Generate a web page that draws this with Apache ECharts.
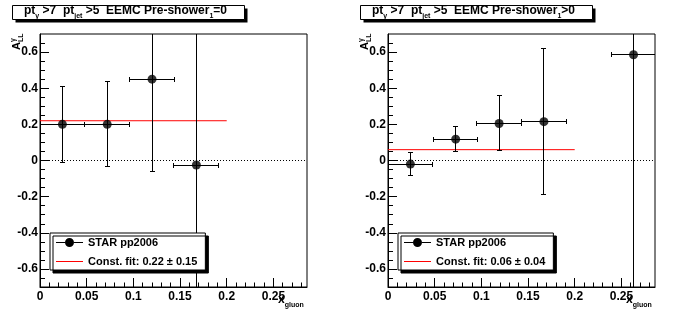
<!DOCTYPE html>
<html>
<head>
<meta charset="utf-8">
<script src="https://cdn.jsdelivr.net/npm/echarts@6/dist/echarts.min.js"></script>
<style>
  html, body { margin: 0; padding: 0; background: #fff; }
  #chart { width: 696px; height: 322px; }
</style>
</head>
<body>
<div id="chart"></div>
<script>
// Photon+jet double-spin asymmetry A_LL vs x_gluon (STAR pp2006),
// split by the EEMC first pre-shower layer, with a constant fit per panel.

const xRange = [0, 0.286];
const yRange = [-0.7, 0.7];
const xTickValues = [0, 0.05, 0.1, 0.15, 0.2, 0.25];
const yTickValues = [-0.6, -0.4, -0.2, 0, 0.2, 0.4, 0.6];

// Pre-shower1 = 0
const xgLeft    = [0.0240, 0.0720, 0.1200, 0.1675];
const allLeft   = [0.200, 0.200, 0.450, -0.025];
const xErrLeft  = [0.024, 0.024, 0.024, 0.024];
const yErrLeft  = [0.210, 0.235, 0.510, 0.850];
const fitLeft = 0.22;
const fitErrLeft = 0.15;

// Pre-shower1 > 0
const xgRight   = [0.0240, 0.0725, 0.1190, 0.1670, 0.2630];
const allRight  = [-0.020, 0.118, 0.205, 0.215, 0.585];
const xErrRight = [0.024, 0.0235, 0.024, 0.024, 0.024];
const yErrRight = [0.065, 0.068, 0.152, 0.405, 1.350];
const fitRight = 0.06;
const fitErrRight = 0.04;

const fitRange = [0, 0.2];
const panelCuts = ['=0', '>0'];
const dataName = 'STAR pp2006';

const FONT = 'Liberation Sans';
const GRID_LEFTS = [40, 388];
const GRID_TOP = 34, GRID_W = 267, GRID_H = 253;

// minor tick positions (every 0.01 in x, every 0.05 in y)
const xMinor = [];
for (let k = 1; k * 0.01 < xRange[1]; k++) xMinor.push(+(k * 0.01).toFixed(2));
const yMinor = [];
for (let k = -13; k <= 13; k++) yMinor.push(+(k * 0.05).toFixed(2));

const fmt = v => String(+(+v).toFixed(3));

const panels = [
  { x: xgLeft, y: allLeft, ex: xErrLeft, ey: yErrLeft, fit: fitLeft, fitErr: fitErrLeft },
  { x: xgRight, y: allRight, ex: xErrRight, ey: yErrRight, fit: fitRight, fitErr: fitErrRight }
];

function errorBarItem(params, api) {
  const x = api.value(0), y = api.value(1), ex = api.value(2), ey = api.value(3);
  const cs = params.coordSys;
  const L = cs.x, R = cs.x + cs.width, T = cs.y, B = cs.y + cs.height;
  const c = api.coord([x, y]);
  const pl = api.coord([x - ex, y]), pr = api.coord([x + ex, y]);
  const pt = api.coord([x, y + ey]), pb = api.coord([x, y - ey]);
  const snap = v => Math.round(v - 0.5) + 0.5;
  const clampX = v => Math.min(Math.max(v, L), R);
  const clampY = v => Math.min(Math.max(v, T), B);
  const cx = snap(c[0]), cy = snap(c[1]);
  const CAP = 2.5;
  const st = () => ({ stroke: '#000', lineWidth: 1, fill: null });
  const kids = [
    { type: 'line', shape: { x1: clampX(pl[0]), y1: cy, x2: clampX(pr[0]), y2: cy }, style: st() },
    { type: 'line', shape: { x1: cx, y1: clampY(pt[1]), x2: cx, y2: clampY(pb[1]) }, style: st() }
  ];
  [pl[0], pr[0]].forEach(px => {
    if (px >= L - 0.5 && px <= R + 0.5) {
      kids.push({ type: 'line', shape: { x1: snap(px), y1: cy - CAP, x2: snap(px), y2: cy + CAP }, style: st() });
    }
  });
  [pt[1], pb[1]].forEach(py => {
    if (py >= T && py <= B) {
      kids.push({ type: 'line', shape: { x1: cx - CAP, y1: snap(py), x2: cx + CAP, y2: snap(py) }, style: st() });
    }
  });
  return { type: 'group', children: kids };
}

const markerIcon = 'path://M0,4 L9,4 L9,5 L0,5 Z M18,4 L27,4 L27,5 L18,5 Z ' +
  'M9,4.5 A4.5,4.5 0 1,0 18,4.5 A4.5,4.5 0 1,0 9,4.5 Z';
const lineIcon = 'path://M0,0 L27,0 L27,1 L0,1 Z';

const grid = [], xAxis = [], yAxis = [], series = [], legend = [], graphic = [];

panels.forEach((p, i) => {
  grid.push({ left: GRID_LEFTS[i], top: GRID_TOP, width: GRID_W, height: GRID_H,
    show: true, borderColor: '#000', borderWidth: 1, backgroundColor: 'transparent' });
});
// overlay grids that only carry the minor ticks
panels.forEach((p, i) => {
  grid.push({ left: GRID_LEFTS[i], top: GRID_TOP, width: GRID_W, height: GRID_H, show: false });
});

const labelStyle = { color: '#000', fontFamily: FONT, fontWeight: 'bold', fontSize: 12 };

panels.forEach((p, i) => {
  xAxis.push({
    gridIndex: i, type: 'value', min: xRange[0], max: xRange[1], position: 'bottom',
    axisLine: { show: true, onZero: false, lineStyle: { color: '#000', width: 1 } },
    axisTick: { show: true, inside: true, length: 9, customValues: xTickValues, lineStyle: { color: '#000' } },
    axisLabel: Object.assign({ customValues: xTickValues, formatter: fmt, margin: 4 }, labelStyle),
    splitLine: { show: false }
  });
  yAxis.push({
    gridIndex: i, type: 'value', min: yRange[0], max: yRange[1], position: 'left',
    axisLine: { show: true, onZero: false, lineStyle: { color: '#000', width: 1 } },
    axisTick: { show: true, inside: true, length: 9, customValues: yTickValues, lineStyle: { color: '#000' } },
    axisLabel: Object.assign({ customValues: yTickValues, formatter: fmt, margin: 2 }, labelStyle),
    splitLine: { show: false }
  });
});
panels.forEach((p, i) => {
  xAxis.push({
    gridIndex: 2 + i, type: 'value', min: xRange[0], max: xRange[1], position: 'bottom',
    axisLine: { show: false, onZero: false }, axisLabel: { show: false }, splitLine: { show: false },
    axisTick: { show: true, inside: true, length: 4.5, customValues: xMinor, lineStyle: { color: '#000' } }
  });
  yAxis.push({
    gridIndex: 2 + i, type: 'value', min: yRange[0], max: yRange[1], position: 'left',
    axisLine: { show: false, onZero: false }, axisLabel: { show: false }, splitLine: { show: false },
    axisTick: { show: true, inside: true, length: 5, customValues: yMinor, lineStyle: { color: '#000' } }
  });
});

panels.forEach((p, i) => {
  const fitName = 'Const. fit: ' + p.fit.toFixed(2) + ' \u00b1 ' + p.fitErr.toFixed(2);
  const bars = p.x.map((xv, k) => [xv, p.y[k], p.ex[k], p.ey[k]]);
  series.push({
    name: dataName, type: 'custom', xAxisIndex: i, yAxisIndex: i,
    renderItem: errorBarItem, data: bars, encode: { x: 0, y: 1 }, z: 3, silent: true,
    itemStyle: { color: '#000' }
  });
  series.push({
    name: fitName, type: 'line', xAxisIndex: i, yAxisIndex: i,
    data: [[fitRange[0], p.fit], [fitRange[1], p.fit]],
    symbol: 'none', lineStyle: { color: '#ff0000', width: 1 }, itemStyle: { color: '#ff0000' },
    z: 2, silent: true, animation: false,
    markLine: {
      silent: true, symbol: 'none', label: { show: false },
      lineStyle: { color: '#000', width: 1, type: [1, 2] },
      data: [{ yAxis: 0 }]
    }
  });
  series.push({
    name: dataName, type: 'scatter', xAxisIndex: i, yAxisIndex: i,
    data: p.x.map((xv, k) => [xv, p.y[k]]),
    symbol: 'circle', symbolSize: 9, itemStyle: { color: '#000' }, z: 4, silent: true
  });

  legend.push({
    left: GRID_LEFTS[i] + 10, top: 233, orient: 'vertical',
    itemWidth: 27, itemHeight: 9, itemGap: 8,
    padding: [4, 8, 3, 6], symbolKeepAspect: true, selectedMode: false,
    backgroundColor: '#fff', borderColor: '#000', borderWidth: 1, borderRadius: 0,
    shadowColor: '#000', shadowBlur: 0, shadowOffsetX: 3, shadowOffsetY: 3,
    textStyle: { color: '#000', fontFamily: FONT, fontWeight: 'bold', fontSize: 11 },
    data: [{ name: dataName, icon: markerIcon }, { name: fitName, icon: lineIcon }]
  });

  const ox = GRID_LEFTS[i] - 40;
  // title box with drop shadow
  graphic.push({ type: 'rect', shape: { x: ox + 15.5, y: 8.5, width: 232, height: 14 }, style: { fill: '#000' }, silent: true });
  graphic.push({ type: 'rect', shape: { x: ox + 12.5, y: 5.5, width: 232, height: 14 },
    style: { fill: '#fff', stroke: '#000', lineWidth: 1 }, silent: true });
  graphic.push({
    type: 'text', x: ox + 24, y: 11, silent: true,
    style: {
      text: '{m|pt}{s|\u03b3}{m| >7  pt}{s|jet}{m| >5  EEMC Pre-shower}{s|1}{m|' + panelCuts[i] + '}',
      verticalAlign: 'middle', align: 'left',
      rich: {
        m: { fontFamily: FONT, fontWeight: 'bold', fontSize: 12, fill: '#000' },
        s: { fontFamily: FONT, fontWeight: 'bold', fontSize: 7, fill: '#000', padding: [11, 0, 0, 0] }
      }
    }
  });
  // y-axis title A_LL^gamma
  graphic.push({
    type: 'text', x: ox + 16.5, y: 50, rotation: Math.PI / 2, silent: true,
    style: {
      text: '{m|A}{s|LL}', verticalAlign: 'middle', align: 'left',
      rich: {
        m: { fontFamily: FONT, fontWeight: 'bold', fontSize: 11, fill: '#000' },
        s: { fontFamily: FONT, fontWeight: 'bold', fontSize: 7, fill: '#000', padding: [10, 0, 0, 0] }
      }
    }
  });
  graphic.push({
    type: 'text', x: ox + 13, y: 42, rotation: Math.PI / 2, silent: true,
    style: { text: '\u03b3', verticalAlign: 'middle', align: 'left',
      fontFamily: FONT, fontWeight: 'bold', fontSize: 7, fill: '#000' }
  });
  // x-axis title x_gluon
  graphic.push({
    type: 'text', x: ox + 278, y: 300, silent: true,
    style: {
      text: '{m|x}{s|gluon}', verticalAlign: 'middle', align: 'left',
      rich: {
        m: { fontFamily: FONT, fontWeight: 'bold', fontSize: 12, fill: '#000' },
        s: { fontFamily: FONT, fontWeight: 'bold', fontSize: 7, fill: '#000', padding: [10, 0, 0, 0] }
      }
    }
  });
});

const chart = echarts.init(document.getElementById('chart'), null, { renderer: 'canvas' });
chart.setOption({
  animation: false,
  backgroundColor: '#fff',
  grid, xAxis, yAxis, series, legend, graphic
});
</script>
</body>
</html>
